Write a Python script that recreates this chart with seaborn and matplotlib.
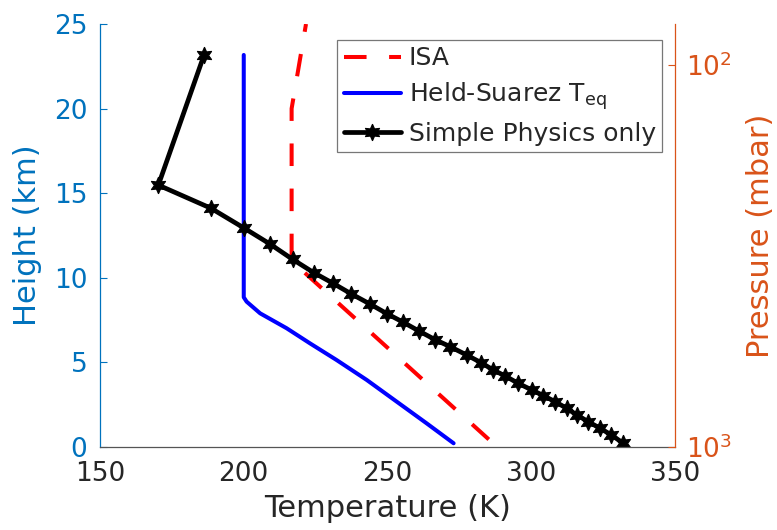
import numpy as np
import pandas as pd
import matplotlib
matplotlib.use("Agg")
import matplotlib.pyplot as plt
import matplotlib.ticker as mticker
import seaborn as sns

# Temperature profiles (K) against height (km)
isa_height = [0.0, 11.0, 20.0, 25.0]
isa_temp = [288.15, 216.65, 216.65, 221.65]

hs_height = [23.17, 8.85, 8.59, 7.90, 7.02, 6.13, 5.14, 3.96, 2.68, 1.40, 0.22]
hs_temp = [200.0, 200.0, 201.0, 205.7, 214.9, 223.0, 232.3, 242.8, 253.2, 263.6, 273.0]

sp_height = [23.17, 15.48, 14.11, 12.93, 12.00, 11.09, 10.31, 9.67, 9.05, 8.46,
             7.89, 7.37, 6.84, 6.35, 5.93, 5.44, 4.99, 4.56, 4.20, 3.76,
             3.37, 3.04, 2.68, 2.29, 1.89, 1.50, 1.11, 0.71, 0.22]
sp_temp = [186.2, 170.3, 188.6, 200.2, 209.1, 217.0, 224.3, 231.1, 237.4, 243.8,
           249.7, 255.5, 261.1, 266.5, 271.8, 277.5, 282.5, 286.7, 290.9, 295.5,
           300.2, 304.2, 308.3, 312.3, 315.9, 319.8, 323.9, 327.9, 332.0]

temp_ticks = [150, 200, 250, 300, 350]
height_ticks = [0, 5, 10, 15, 20, 25]
pressure_range = (1000, 78.1)

BLUE_AX = "#0072BD"
ORANGE_AX = "#D95319"
DARK = "#262626"

sns.set_style("white")
plt.rcParams["font.family"] = ["DejaVu Sans"]
plt.rcParams["mathtext.fontset"] = "dejavusans"

fig = plt.figure(figsize=(7.77, 5.30), dpi=100)
ax = fig.add_axes([100 / 777, 83 / 530, 575 / 777, 423 / 530])

isa = pd.DataFrame({"T": isa_temp, "z": isa_height})
hs = pd.DataFrame({"T": hs_temp, "z": hs_height})
sp = pd.DataFrame({"T": sp_temp, "z": sp_height})

dash_pattern = (5.6, 5.6)
sns.lineplot(data=isa, x="T", y="z", sort=False, estimator=None, ax=ax,
             color="#FF0000", linewidth=2.9,
             linestyle=(8.4, dash_pattern), label="ISA")
sns.lineplot(data=hs, x="T", y="z", sort=False, estimator=None, ax=ax,
             color="#0000FF", linewidth=2.9, label="Held-Suarez T$_{\\mathrm{eq}}$")
sns.lineplot(data=sp, x="T", y="z", sort=False, estimator=None, ax=ax,
             color="black", linewidth=3.4, marker=(6, 1, 0), markersize=12,
             markeredgecolor="black", markerfacecolor="black",
             label="Simple Physics only")

ax.set_xlim(150, 350)
ax.set_ylim(0, 25)
ax.set_xticks(temp_ticks)
ax.set_yticks(height_ticks)

tick_fs = 19
label_fs = 22
ax.tick_params(axis="x", direction="in", length=5, width=0.8, colors=DARK,
               labelsize=tick_fs, pad=10)
ax.tick_params(axis="y", direction="in", length=5, width=0.8, colors=BLUE_AX,
               labelsize=tick_fs, pad=9)
ax.set_xlabel("Temperature (K)", fontsize=label_fs, color=DARK)
ax.set_ylabel("Height (km)", fontsize=label_fs, color=BLUE_AX)
ax.yaxis.set_label_coords(-0.100, 0.5)
ax.xaxis.set_label_coords(0.5, -0.112)

for side in ["top", "right"]:
    ax.spines[side].set_visible(False)
ax.spines["left"].set_color(BLUE_AX)
ax.spines["left"].set_linewidth(0.9)
ax.spines["bottom"].set_color("#555555")
ax.spines["bottom"].set_linewidth(0.9)

# Pressure axis on the right, logarithmic and increasing downward
ax2 = ax.twinx()
ax2.set_yscale("log")
ax2.set_ylim(*pressure_range)
ax2.yaxis.set_major_locator(mticker.LogLocator(base=10, numticks=5))
ax2.yaxis.set_minor_locator(mticker.NullLocator())
ax2.tick_params(axis="y", direction="in", length=5, width=0.8, colors=ORANGE_AX,
                labelsize=tick_fs, pad=8)
ax2.set_ylabel("Pressure (mbar)", fontsize=label_fs, color=ORANGE_AX)
ax2.yaxis.set_label_coords(1.124, 0.5)
for side in ["top", "left", "bottom"]:
    ax2.spines[side].set_visible(False)
ax2.spines["right"].set_color(ORANGE_AX)
ax2.spines["right"].set_linewidth(0.9)

leg = ax.legend(loc="upper right", bbox_to_anchor=((662 - 100) / 575, (447 - 40) / 423),
                fontsize=18, frameon=True, fancybox=False, edgecolor="#555555",
                handlelength=2.3, handletextpad=0.3, borderpad=0.25,
                labelspacing=0.4, borderaxespad=0.0)
leg.get_frame().set_linewidth(0.9)
for t in leg.get_texts():
    t.set_color(DARK)
leg.get_lines()[0].set_linestyle((0, dash_pattern))
leg.remove()
ax2.add_artist(leg)

fig.savefig("out.png", dpi=100, facecolor="white")
